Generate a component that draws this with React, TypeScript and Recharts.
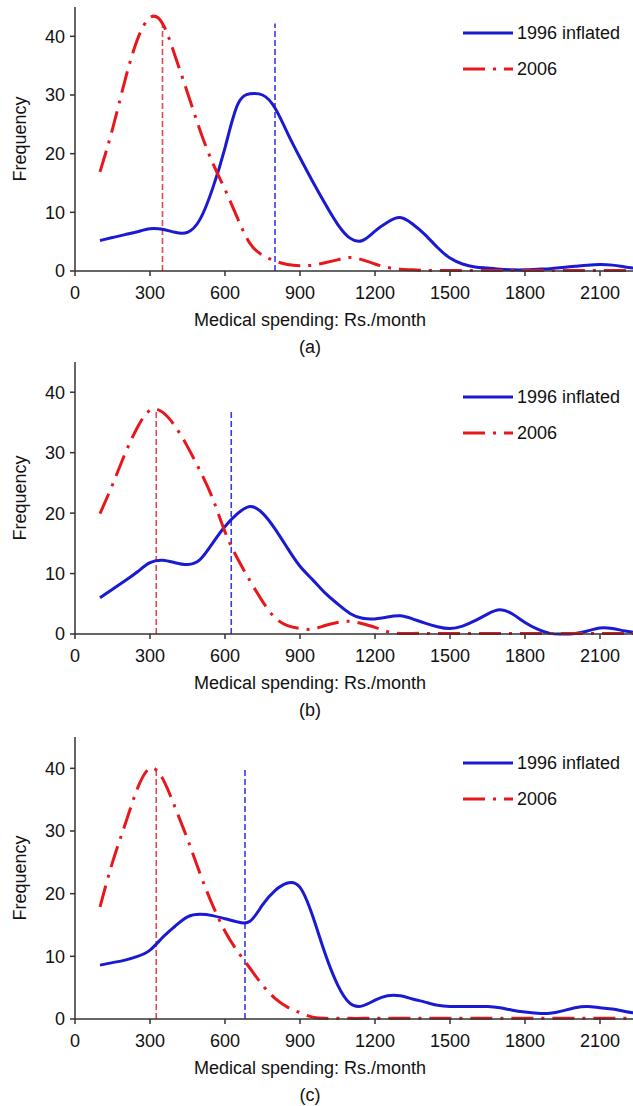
import { LineChart, Line, XAxis, YAxis, ReferenceLine, Legend, Label } from "recharts";

// spending grid (Rs./month)
const spending = [
  100, 150, 200, 250, 300, 350, 400, 450, 500, 550, 600, 650, 700, 750, 800, 850, 900, 950, 1000, 1050, 1100, 1150,
  1200, 1250, 1300, 1350, 1400, 1450, 1500, 1550, 1600, 1650, 1700, 1750, 1800, 1850, 1900, 1950, 2000, 2050, 2100,
  2150, 2200, 2250,
];

const xTicks = [0, 300, 600, 900, 1200, 1500, 1800, 2100];
const yTicks = [0, 10, 20, 30, 40];

// panel (a)
const inflatedA = [
  5.2, 5.7, 6.2, 6.7, 7.2, 7.1, 6.6, 6.6, 8.8, 14, 21, 28.3, 30.2, 30.0, 27.8, 23.5, 19.3, 15.3, 11.5, 8.0, 5.6, 5.2,
  6.8, 8.3, 9.1, 8.0, 6.2, 4.0, 2.2, 1.2, 0.7, 0.5, 0.3, 0.2, 0.2, 0.3, 0.4, 0.6, 0.8, 1.0, 1.1, 1.0, 0.7, 0.4,
];
const y2006A = [
  16.9, 24.2, 32.5, 39.5, 43.2, 42.2, 36.7, 30.4, 24, 18.5, 13.9, 9.0, 4.7, 2.7, 1.7, 1.1, 0.9, 1.0, 1.4, 1.9, 2.3,
  1.9, 1.2, 0.6, 0.3, 0.2, 0.1, 0.1, 0.1, 0.1, 0.1, 0.1, 0.1, 0.1, 0.1, 0.1, 0.1, 0.1, 0.1, 0.1, 0.1, 0.1, 0.1, 0.1,
];

// panel (b)
const inflatedB = [
  6.0, 7.4, 8.8, 10.3, 11.8, 12.2, 11.8, 11.5, 12.3, 15.0, 17.8, 19.9, 21.1, 20.0, 17.4, 14.2, 11.2, 9.0, 6.8, 5.0,
  3.4, 2.6, 2.5, 2.8, 3.0, 2.5, 1.8, 1.2, 0.9, 1.3, 2.2, 3.3, 4.0, 3.3, 1.9, 0.8, 0.1, 0, 0.1, 0.5, 1.0, 0.9, 0.5, 0.2,
];
const y2006B = [
  19.9, 24.7, 29.8, 34.2, 37.0, 36.7, 34.4, 31.0, 27.0, 22.5, 16.9, 12.5, 8.8, 5.4, 2.7, 1.4, 0.9, 0.8, 1.4, 1.9, 2.1,
  1.7, 1.1, 0.4, 0.1, 0.1, 0.1, 0.1, 0.1, 0.1, 0.1, 0.1, 0.1, 0.1, 0.1, 0.1, 0.1, 0.1, 0.1, 0.1, 0.1, 0.1, 0.1, 0.1,
];

// panel (c)
const inflatedC = [
  8.6, 9.0, 9.4, 10.0, 11.0, 13.0, 14.8, 16.3, 16.7, 16.5, 16.0, 15.5, 15.6, 18.2, 20.5, 21.7, 21.0, 16.5, 10.5, 5.5,
  2.5, 2.1, 3.0, 3.7, 3.7, 3.2, 2.7, 2.2, 2.0, 2.0, 2.0, 2.0, 1.8, 1.4, 1.1, 0.9, 0.9, 1.3, 1.8, 2.0, 1.8, 1.6, 1.2,
  0.9,
];
const y2006C = [
  17.9, 25.0, 31.0, 36.8, 40.0, 38.4, 33.8, 28.7, 23.2, 18.2, 14.0, 10.8, 8.1, 5.4, 3.3, 1.9, 1.0, 0.3, 0.1, 0.1,
  0.1, 0.1, 0.1, 0.1, 0.1, 0.1, 0.1, 0.1, 0.1, 0.1, 0.1, 0.1, 0.1, 0.1, 0.1, 0.1, 0.1, 0.1, 0.1, 0.1, 0.1, 0.1, 0.1,
  0.1,
];

// median markers: [x, height]
const medianRed = [[350, 42.5], [325, 37], [325, 39.8]];
const medianBlue = [[800, 42.2], [625, 37], [680, 40]];
const letters = ["(a)", "(b)", "(c)"];

const BLUE = "#1a1ad2";
const RED = "#e8171c";
const FONT = '"Liberation Sans", Arial, Helvetica, sans-serif';
const DASHDOT = "22 8 3 8";
const FS = 18;

const layouts = [
  { height: 360, top: 7, axis: 89, legendTop: 15 },
  { height: 370, top: 2, axis: 96, legendTop: 19 },
  { height: 376, top: 7, axis: 87, legendTop: 15 },
];

function renderLegend(props: any) {
  const items = props.payload || [];
  return (
    <div style={{ fontFamily: FONT, fontSize: FS, color: "#111" }}>
      {items.map((it: any) => (
        <div key={it.value} style={{ display: "flex", alignItems: "center", height: 36 }}>
          <svg width={54} height={8} style={{ display: "block" }}>
            <line
              x1={0}
              y1={4}
              x2={50}
              y2={4}
              stroke={it.color}
              strokeWidth={3}
              strokeDasharray={it.payload && it.payload.strokeDasharray}
            />
          </svg>
          <span>{it.value}</span>
        </div>
      ))}
    </div>
  );
}

function Panel({ idx, blue, red }: { idx: number; blue: number[]; red: number[] }) {
  const lay = layouts[idx];
  const rows = spending.map((x, i) => ({ x, inflated: blue[i], y2006: red[i] }));
  const [rx, rh] = medianRed[idx];
  const [bx, bh] = medianBlue[idx];
  return (
    <LineChart width={633} height={lay.height} data={rows} margin={{ top: lay.top, right: 0, bottom: 0, left: 0 }}>
      <XAxis
        dataKey="x"
        type="number"
        domain={[0, 2232]}
        ticks={xTicks}
        allowDataOverflow
        height={lay.axis}
        tickSize={5}
        tickMargin={10}
        axisLine={{ stroke: "#333", strokeWidth: 1.5 }}
        tickLine={{ stroke: "#333", strokeWidth: 1.5 }}
        tick={{ fontSize: FS, fill: "#111", fontFamily: FONT }}
      >
        <Label
          content={(p: any) => {
            const vb = p.viewBox;
            return (
              <g fontFamily={FONT} fontSize={FS} fill="#111" textAnchor="middle">
                <text x={vb.x + 235} y={vb.y + 55}>
                  Medical spending: Rs./month
                </text>
                <text x={vb.x + 235} y={vb.y + 82}>
                  {letters[idx]}
                </text>
              </g>
            );
          }}
        />
      </XAxis>
      <YAxis
        type="number"
        domain={[0, 45]}
        ticks={yTicks}
        width={75}
        tickSize={5}
        tickMargin={5}
        axisLine={{ stroke: "#333", strokeWidth: 1.5 }}
        tickLine={{ stroke: "#333", strokeWidth: 1.5 }}
        tick={{ fontSize: FS, fill: "#111", fontFamily: FONT }}
      >
        <Label
          content={(p: any) => {
            const vb = p.viewBox;
            const cy = vb.y + vb.height / 2;
            return (
              <text
                x={20}
                y={cy}
                transform={`rotate(-90, 20, ${cy})`}
                textAnchor="middle"
                dominantBaseline="central"
                fontFamily={FONT}
                fontSize={FS}
                fill="#111"
              >
                Frequency
              </text>
            );
          }}
        />
      </YAxis>
      <ReferenceLine
        segment={[{ x: rx, y: 0 }, { x: rx, y: rh }]}
        stroke="#e0484c"
        strokeWidth={1.6}
        strokeDasharray="6 3"
      />
      <ReferenceLine
        segment={[{ x: bx, y: 0 }, { x: bx, y: bh }]}
        stroke="#3a3ae0"
        strokeWidth={1.6}
        strokeDasharray="6 3"
      />
      <Line
        dataKey="inflated"
        name="1996 inflated"
        type="natural"
        stroke={BLUE}
        strokeWidth={3}
        dot={false}
        isAnimationActive={false}
      />
      <Line
        dataKey="y2006"
        name="2006"
        type="natural"
        stroke={RED}
        strokeWidth={3}
        strokeDasharray={DASHDOT}
        dot={false}
        isAnimationActive={false}
      />
      <Legend
        layout="vertical"
        verticalAlign="middle"
        align="center"
        content={renderLegend}
        wrapperStyle={{ left: 463, top: lay.legendTop, width: 170, height: 72 }}
      />
    </LineChart>
  );
}

export default function App() {
  return (
    <div style={{ position: "absolute", left: 0, top: 0, width: 633, height: 1106, background: "#fff" }}>
      <Panel idx={0} blue={inflatedA} red={y2006A} />
      <Panel idx={1} blue={inflatedB} red={y2006B} />
      <Panel idx={2} blue={inflatedC} red={y2006C} />
    </div>
  );
}
